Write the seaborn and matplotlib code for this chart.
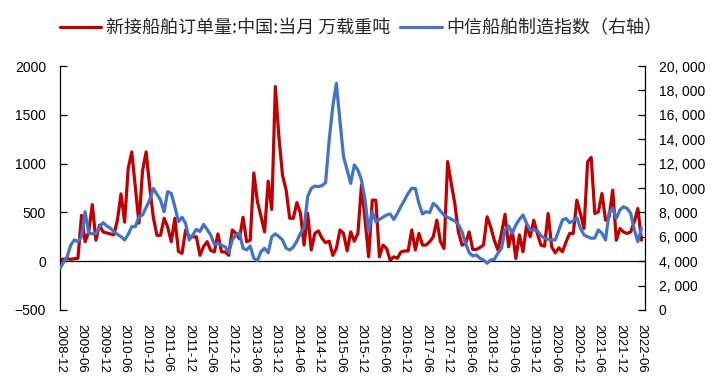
import matplotlib
matplotlib.use("Agg")
import matplotlib.pyplot as plt
import seaborn as sns
import pandas as pd
import numpy as np

# 月份: 2008-12 .. 2022-06
months = pd.date_range("2008-12-01", "2022-06-01", freq="MS")
month_labels = [d.strftime("%Y-%m") for d in months]

# 新接船舶订单量:中国:当月 (万载重吨) - 左轴
new_orders = [
    20, 20, 25, 20, 25, 30, 470, 200, 300, 580,
    215, 370, 300, 290, 280, 270, 420, 690, 400, 950,
    1120, 760, 390, 930, 1120, 760, 450, 265, 265, 440,
    350, 200, 440, 100, 80, 320, 250, 250, 250, 60,
    150, 200, 110, 95, 280, 95, 95, 60, 320, 285,
    230, 450, 200, 215, 905, 610, 460, 300, 820, 530,
    1790, 1270, 880, 730, 440, 440, 600, 490, 165, 490,
    115, 285, 310, 235, 190, 205, 60, 130, 320, 285,
    106, 300, 205, 285, 780, 420, 45, 625, 625, 45,
    165, 130, 10, 45, 30, 95, 105, 105, 320, 115,
    285, 165, 165, 200, 250, 420, 200, 130, 1020, 800,
    590, 300, 165, 180, 300, 120, 120, 140, 165, 455,
    350, 215, 115, 285, 480, 147, 318, 27, 270, 96,
    369, 250, 420, 284, 164, 154, 489, 147, 85, 137,
    96, 198, 284, 284, 625, 489, 335, 1018, 1063, 489,
    506, 694, 420, 454, 728, 215, 335, 300, 284, 300,
    403, 540, 215,
]

# 中信船舶制造指数 - 右轴
citic_index = [
    3420, 3900, 4370, 5330, 5740, 5600, 6010, 8060, 6290, 6250,
    6250, 6800, 7160, 6900, 6700, 6430, 6200, 6010, 5740, 6200,
    6830, 6830, 7650, 7790, 8400, 9020, 9970, 9500, 9020, 8060,
    9700, 9560, 8470, 7240, 7600, 7100, 5740, 6150, 6610, 6430,
    7020, 6600, 6150, 5380, 5470, 5300, 5190, 4730, 5740, 6150,
    6330, 5060, 4920, 5250, 4240, 4040, 4780, 5060, 4690, 6010,
    6240, 6010, 5740, 5060, 4920, 5150, 5650, 6290, 6700, 9290,
    9970, 10160, 10110, 10200, 10440, 13930, 16670, 18580, 15500, 12570,
    11480, 10380, 11890, 11480, 10660, 9020, 6420, 8060, 7240, 7420,
    7600, 7790, 7870, 7420, 7920, 8500, 9020, 9560, 9970, 9970,
    8740, 7870, 8060, 7980, 8740, 8500, 8100, 7790, 7600, 7450,
    7300, 7000, 6400, 5470, 4700, 4430, 4510, 4240, 4100, 3830,
    4100, 4150, 4650, 5060, 6560, 6890, 6290, 6970, 7430, 7790,
    7100, 6560, 6560, 6500, 6100, 5880, 5800, 5740, 5740, 6560,
    7380, 7510, 7160, 7300, 7560, 6700, 6150, 6000, 5880, 5900,
    6560, 6290, 5740, 8000, 8330, 7510, 8200, 8470, 8330, 7920,
    6600, 5600, 6700,
]

label_red = "新接船舶订单量:中国:当月 万载重吨"
label_blue = "中信船舶制造指数（右轴）"

df = pd.DataFrame({"m": np.arange(len(months)),
                   "orders": new_orders,
                   "index": citic_index})

sns.set_style("white")
plt.rcParams["font.family"] = ["Liberation Sans", "Noto Sans CJK SC", "DejaVu Sans"]
plt.rcParams["axes.unicode_minus"] = True

fig = plt.figure(figsize=(7.22, 3.92), dpi=100)
ax = fig.add_axes([0.0831, 0.2092, 0.8103, 0.6224])
ax2 = ax.twinx()

sns.lineplot(data=df, x="m", y="orders", ax=ax, color="#C00000", lw=2.3, label=label_red, legend=False)
sns.lineplot(data=df, x="m", y="index", ax=ax2, color="#4472C4", lw=2.3, label=label_blue, legend=False)

ax.set_xlim(0, 163)
ax.set_ylim(-500, 2000)
ax.set_yticks(np.arange(-500, 2001, 500))
ax2.set_ylim(0, 20000)
ax2.set_yticks(np.arange(0, 20001, 2000))
ax2.set_yticklabels([f"{v:,}".replace(",", ", ") for v in range(0, 20001, 2000)])

for a in (ax, ax2):
    a.set_xlabel("")
    a.set_ylabel("")
    a.spines["top"].set_visible(False)
    for s in a.spines.values():
        s.set_color("black")
        s.set_linewidth(0.9)

ax.spines["right"].set_visible(False)
ax2.spines["left"].set_visible(False)
ax2.spines["bottom"].set_visible(False)
ax.spines["bottom"].set_position(("data", 0))

ax.tick_params(axis="x", direction="out", length=5, width=0.9, pad=40, labelsize=9.5,
               colors="black", labelrotation=-90)
ax.tick_params(axis="y", direction="in", length=5, width=0.9, pad=10, labelsize=10, colors="black")
ax2.tick_params(axis="y", direction="in", length=5, width=0.9, pad=10, labelsize=10, colors="black")

tick_pos = np.arange(0, len(months), 6)
ax.set_xticks(tick_pos)
ax.set_xticklabels([month_labels[i] for i in tick_pos])
plt.setp(ax.get_xticklabels(), rotation=-90, ha="center", va="top")

h1, l1 = ax.get_legend_handles_labels()
h2, l2 = ax2.get_legend_handles_labels()
fig.legend(h1 + h2, l1 + l2, loc="center", bbox_to_anchor=(0.5, 0.928), ncol=2,
           frameon=False, handlelength=2.3, handletextpad=0.25, columnspacing=0.55,
           prop={"family": ["Noto Sans CJK SC", "DejaVu Sans"], "size": 13})

fig.savefig("out.png", dpi=100)
